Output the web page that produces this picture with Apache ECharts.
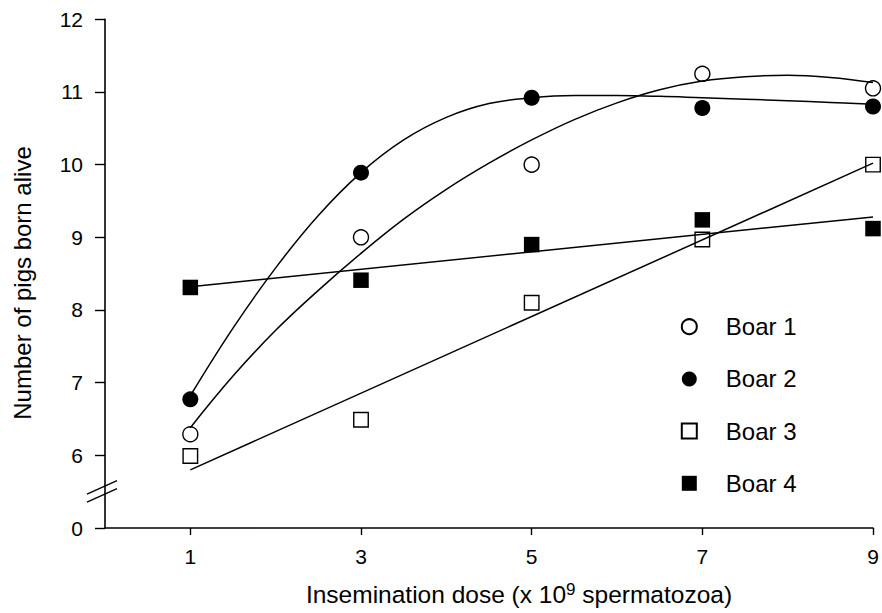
<!DOCTYPE html>
<html><head><meta charset="utf-8">
<script src="https://cdn.jsdelivr.net/npm/echarts@6/dist/echarts.min.js"></script>
<style>html,body{margin:0;padding:0;background:#fff}#c{width:882px;height:613px}</style>
</head><body><div id="c"></div>
<script>
// ---- data ----
const doses = [1, 3, 5, 7, 9];
const boar1 = [6.29, 9.00, 10.00, 11.25, 11.05];
const boar2 = [6.77, 9.89, 10.92, 10.78, 10.80];
const boar3 = [5.99, 6.49, 8.10, 8.97, 10.00];
const boar4 = [8.31, 8.41, 8.90, 9.24, 9.12];

// fitted curves
const fitX = [1, 1.5, 2, 2.5, 3, 3.5, 4, 4.5, 5, 5.5, 6, 6.5, 7, 7.5, 8, 8.5, 9];
const fit1 = [6.38, 7.09, 7.72, 8.27, 8.78, 9.25, 9.66, 10.02, 10.34, 10.62, 10.85, 11.03, 11.15, 11.21, 11.23, 11.20, 11.13];
const fit2 = [6.82, 7.75, 8.58, 9.30, 9.89, 10.34, 10.65, 10.84, 10.92, 10.95, 10.95, 10.94, 10.92, 10.90, 10.88, 10.855, 10.83];
const fitLinX = [1, 9];
const fit3 = [5.80, 10.02];
const fit4 = [8.32, 9.28];

const seriesNames = ['Boar 1', 'Boar 2', 'Boar 3', 'Boar 4'];
const xTickValues = [1, 3, 5, 7, 9];
const yTickValues = [5, 6, 7, 8, 9, 10, 11, 12];
const yTickLabels = ['0', '6', '7', '8', '9', '10', '11', '12'];
const xTitle = ['Insemination dose (x 10', '9', ' spermatozoa)'];
const yTitle = 'Number of pigs born alive';

// ---- chart ----
const FONT = "'Liberation Sans', Arial, Helvetica, sans-serif";
const pairs = (xs, ys) => xs.map((x, i) => [x, ys[i]]);
const chart = echarts.init(document.getElementById('c'), null, {renderer: 'svg'});

const openStyle = {color: 'rgba(255,255,255,0)', borderColor: '#000', borderWidth: 1.4, opacity: 1};
const filledStyle = {color: '#000', borderColor: '#000', borderWidth: 0, opacity: 1};
const fitLine = (data, smooth) => ({
  type: 'line', data, smooth, symbol: 'none', silent: true, z: 2,
  lineStyle: {color: '#000', width: 1.5, opacity: 1}, emphasis: {disabled: true}
});

chart.setOption({
  animation: false,
  backgroundColor: '#fff',
  grid: {left: 105, right: 9, top: 19.3, bottom: 85, containLabel: false},
  xAxis: {
    type: 'value', min: 0, max: 9,
    axisLine: {lineStyle: {color: '#000', width: 1.6}},
    axisTick: {customValues: xTickValues, length: 7, lineStyle: {color: '#000', width: 1.4}},
    axisLabel: {customValues: xTickValues, color: '#000', fontSize: 21, fontFamily: FONT, margin: 18},
    splitLine: {show: false}
  },
  yAxis: {
    type: 'value', min: 5, max: 12, interval: 1,
    axisLine: {show: true, lineStyle: {color: '#000', width: 1.6}},
    axisTick: {show: true, length: 10, lineStyle: {color: '#000', width: 1.4}},
    axisLabel: {
      color: '#000', fontSize: 21, fontFamily: FONT, margin: 22,
      formatter: v => { const i = yTickValues.indexOf(v); return i >= 0 ? yTickLabels[i] : ''; }
    },
    splitLine: {show: false}
  },
  legend: {
    data: seriesNames, orient: 'vertical', left: 680.8, top: 314.7, padding: 0,
    itemWidth: 15, itemHeight: 15, itemGap: 28.2, selectedMode: false,
    formatter: n => '{g| }{t|' + n + '}',
    textStyle: {
      color: '#000', fontSize: 24, fontFamily: FONT, lineHeight: 24,
      rich: {g: {width: 24, fontSize: 24, lineHeight: 24}, t: {fontSize: 24, fontFamily: FONT, color: '#000', lineHeight: 24}}
    }
  },
  series: [
    fitLine(pairs(fitX, fit1), 0.4),
    fitLine(pairs(fitX, fit2), 0.4),
    fitLine(pairs(fitLinX, fit3), false),
    fitLine(pairs(fitLinX, fit4), false),
    {type: 'scatter', name: seriesNames[0], data: pairs(doses, boar1), symbol: 'circle', symbolSize: 15, itemStyle: openStyle, z: 5},
    {type: 'scatter', name: seriesNames[1], data: pairs(doses, boar2), symbol: 'circle', symbolSize: 16, itemStyle: filledStyle, z: 5},
    {type: 'scatter', name: seriesNames[2], data: pairs(doses, boar3), symbol: 'rect', symbolSize: 14.5, itemStyle: openStyle, z: 5},
    {type: 'scatter', name: seriesNames[3], data: pairs(doses, boar4), symbol: 'rect', symbolSize: 15.5, itemStyle: filledStyle, z: 5}
  ],
  graphic: [
    {
      id: 'xtitle', type: 'text', x: 519, y: 594,
      style: {
        text: '{a|' + xTitle[0] + '}{s|' + xTitle[1] + '}{a|' + xTitle[2] + '}',
        align: 'center', verticalAlign: 'middle', fill: '#000',
        rich: {
          a: {fontSize: 24.5, fontFamily: FONT, fill: '#000', lineHeight: 26},
          s: {fontSize: 17, fontFamily: FONT, fill: '#000', verticalAlign: 'top', lineHeight: 17}
        }
      }
    },
    {
      id: 'ytitle', type: 'text', x: 22, y: 283, rotation: Math.PI / 2,
      style: {text: yTitle, align: 'center', verticalAlign: 'middle', fill: '#000', fontSize: 24, fontFamily: FONT}
    }
  ]
});

// axis-break marks (decoration) placed through the axis scale
const c = chart.convertToPixel({gridIndex: 0}, [0, 5.52]);
const br = (id, dy) => ({
  id, type: 'line', z: 10,
  shape: {x1: c[0] - 18, y1: c[1] + dy + 8, x2: c[0] + 12, y2: c[1] + dy - 5.5},
  style: {stroke: '#000', lineWidth: 1.4}
});
chart.setOption({graphic: [br('b1', -4), br('b2', 4)]});
</script>
</body></html>
